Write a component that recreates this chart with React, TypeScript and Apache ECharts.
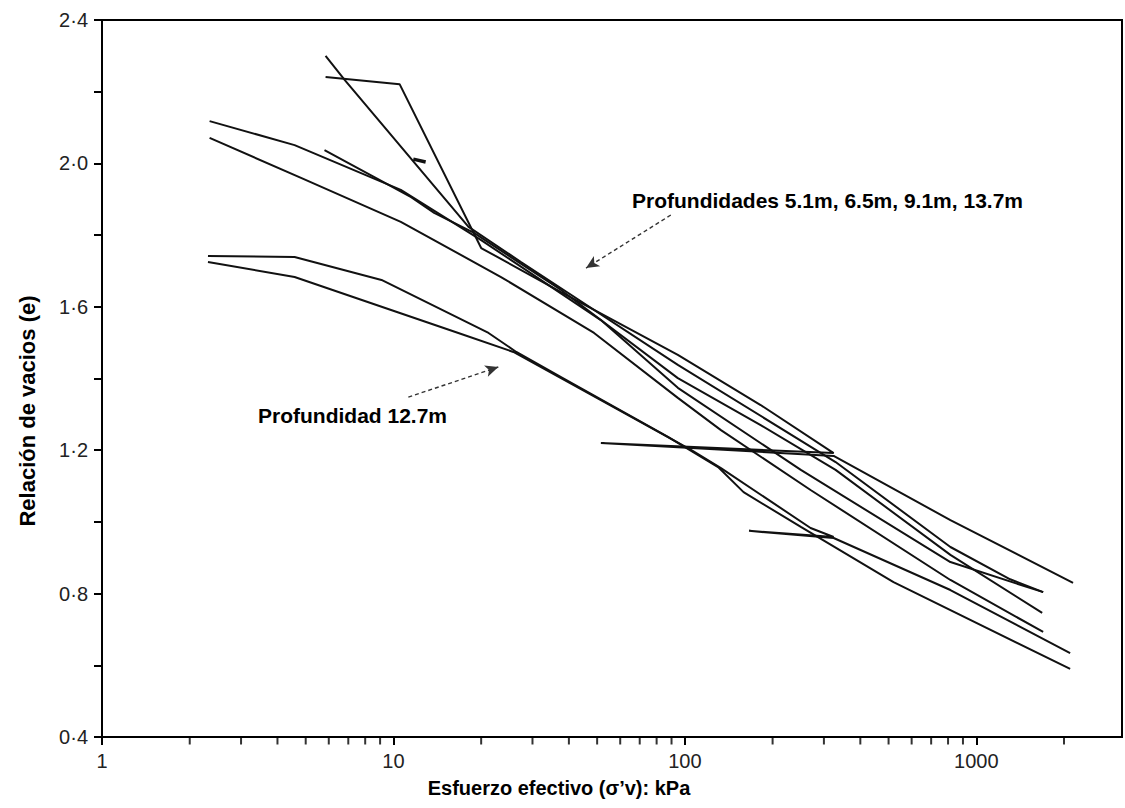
import React, { useEffect, useRef } from "react";
import * as echarts from "echarts";

// ---- data (x: effective stress kPa, y: void ratio e) ----
const X_TICK_LABELS = [1, 10, 100, 1000];
const Y_LABEL_VALUES = [0.4, 0.8, 1.2, 1.6, 2.0, 2.4];
const MINOR_TICKS_X = [2, 3, 4, 5, 6, 7, 8, 9, 20, 30, 40, 50, 60, 70, 80, 90, 200, 300, 400, 500, 600, 700, 800, 900, 2000];

const curveU1 = [
  [5.85, 2.241], [10.5, 2.221], [20, 1.764], [37.6, 1.641], [94.6, 1.466], [182, 1.326],
  [324, 1.192], [51.5, 1.22], [324, 1.184], [815, 1.005], [2148, 0.83],
];
const curveU2 = [
  [5.85, 2.3], [6.8, 2.233], [18.1, 1.823], [27.4, 1.725], [94.6, 1.438], [329, 1.167],
  [815, 0.93], [1307, 0.84], [1696, 0.804],
];
const curveU3 = [
  [5.8, 2.037], [8.6, 1.962], [11.5, 1.906], [13.8, 1.862], [18.9, 1.806], [37.6, 1.647],
  [94.6, 1.401], [182, 1.27], [329, 1.145], [815, 0.908], [1683, 0.746],
];
const curveU4 = [
  [2.34, 2.118], [4.58, 2.051], [10.6, 1.926], [20, 1.786], [51.5, 1.563], [94.6, 1.374],
  [250, 1.145], [815, 0.888], [1696, 0.804],
];
const curveU5 = [
  [2.34, 2.071], [4.84, 1.959], [10.6, 1.837], [23.4, 1.683], [48.8, 1.527], [94.6, 1.346],
  [133, 1.256], [270, 1.089], [815, 0.838], [1696, 0.693],
];
const curveLA = [
  [2.31, 1.742], [4.58, 1.739], [9.1, 1.675], [21.2, 1.527], [26.4, 1.474], [37.6, 1.404],
  [87.5, 1.237], [130, 1.153], [159, 1.083], [250, 0.986], [520, 0.832], [2099, 0.59],
];
const curveLB = [
  [2.31, 1.725], [4.58, 1.683], [16.7, 1.527], [25.8, 1.474], [51.5, 1.34], [105, 1.201],
  [133, 1.15], [270, 0.983], [324, 0.958], [166, 0.975], [324, 0.955], [815, 0.81], [2099, 0.634],
];
const markDash = [[11.7, 2.012], [12.9, 2.004]];

const ARROW_UPPER = [[89.5, 1.856], [45.8, 1.708]];
const ARROW_LOWER = [[11.25, 1.348], [22.9, 1.432]];

const CURVES = [curveU1, curveU2, curveU3, curveU4, curveU5, curveLA, curveLB];

const FONT = '"Liberation Sans", Arial, Helvetica, sans-serif';

export default function App() {
  const ref = useRef<HTMLDivElement>(null);
  useEffect(() => {
    if (!ref.current) return;
    const chart = echarts.init(ref.current, undefined, { renderer: "svg" });
    const isDecade = (v: number) => {
      const l = Math.log10(v);
      return Math.abs(l - Math.round(l)) < 1e-6 && X_TICK_LABELS.includes(Math.round(v));
    };
    const lineSeries: any[] = CURVES.map((c, i) => ({
      type: "line",
      name: "c" + i,
      data: c,
      symbol: "none",
      smooth: false,
      lineStyle: { color: "#111", width: 2 },
    }));
    lineSeries.push({
      type: "line",
      data: markDash,
      symbol: "none",
      lineStyle: { color: "#111", width: 3.5 },
    });
    lineSeries.push({
      type: "scatter",
      data: MINOR_TICKS_X.map((x) => [x, 0.4]),
      symbol: "rect",
      symbolSize: [2, 7],
      symbolOffset: [0, 4],
      clip: false,
      itemStyle: { color: "#000" },
      silent: true,
      markLine: {
        silent: true,
        symbol: ["none", "arrow"],
        symbolSize: [9, 13],
        label: { show: false },
        lineStyle: { type: [4, 3], color: "#333", width: 1.4 },
        data: [
          [{ coord: ARROW_UPPER[0] }, { coord: ARROW_UPPER[1] }],
          [{ coord: ARROW_LOWER[0] }, { coord: ARROW_LOWER[1] }],
        ],
      },
    });
    chart.setOption({
      animation: false,
      backgroundColor: "#fff",
      grid: {
        left: 102,
        right: 3,
        top: 20,
        bottom: 71,
        show: true,
        borderColor: "#000",
        borderWidth: 2,
        backgroundColor: "transparent",
      },
      xAxis: {
        type: "log",
        logBase: 10,
        min: 1,
        max: 3162,
        axisLine: { show: true, lineStyle: { color: "#000", width: 2 } },
        axisTick: { show: true, length: 8, lineStyle: { color: "#000", width: 2 } },
        axisLabel: {
          formatter: (v: number) => (isDecade(v) ? String(Math.round(v)) : ""),
          margin: 14,
          fontSize: 20,
          color: "#222",
          fontFamily: FONT,
          showMaxLabel: false,
        },
        splitLine: { show: false },
      },
      yAxis: {
        type: "value",
        min: 0.4,
        max: 2.4,
        interval: 0.2,
        axisLine: { show: true, lineStyle: { color: "#000", width: 2 } },
        axisTick: { show: true, length: 8, lineStyle: { color: "#000", width: 2 } },
        axisLabel: {
          formatter: (v: number) =>
            Y_LABEL_VALUES.some((y) => Math.abs(y - v) < 1e-6) ? v.toFixed(1).replace(".", "·") : "",
          margin: 14,
          fontSize: 20,
          color: "#222",
          fontFamily: FONT,
        },
        splitLine: { show: false },
      },
      graphic: [
        {
          type: "text",
          x: 632,
          y: 200,
          style: {
            text: "Profundidades 5.1m, 6.5m, 9.1m, 13.7m",
            fill: "#000",
            font: `bold 21px ${FONT}`,
            align: "left",
            verticalAlign: "middle",
          },
        },
        {
          type: "text",
          x: 258,
          y: 415,
          style: {
            text: "Profundidad 12.7m",
            fill: "#000",
            font: `bold 21px ${FONT}`,
            align: "left",
            verticalAlign: "middle",
          },
        },
        {
          type: "text",
          x: 559,
          y: 788,
          style: {
            text: "Esfuerzo efectivo (σ’v): kPa",
            fill: "#000",
            font: `bold 20px ${FONT}`,
            align: "center",
            verticalAlign: "middle",
          },
        },
        {
          type: "text",
          x: 27,
          y: 411,
          rotation: Math.PI / 2,
          style: {
            text: "Relación de vacios (e)",
            fill: "#000",
            font: `bold 22px ${FONT}`,
            align: "center",
            verticalAlign: "middle",
          },
        },
      ],
      series: lineSeries,
    });
    return () => chart.dispose();
  }, []);
  return (
    <div
      ref={ref}
      style={{ position: "fixed", left: 0, top: 0, width: 1125, height: 808, background: "#fff" }}
    />
  );
}
